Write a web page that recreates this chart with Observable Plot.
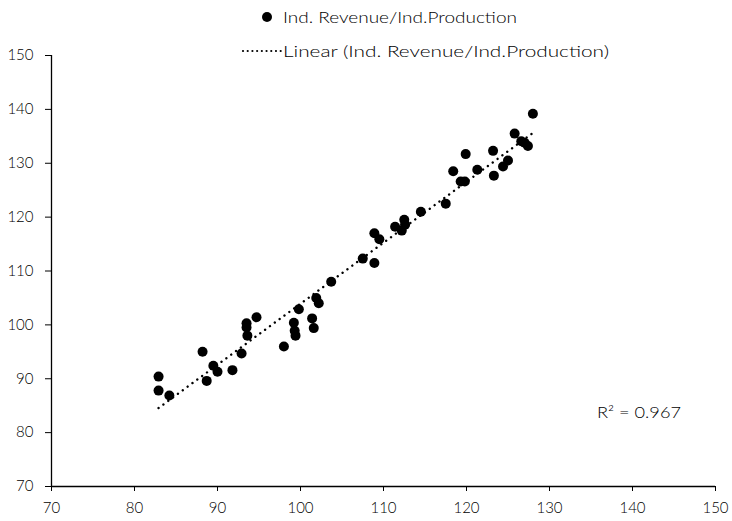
<!DOCTYPE html>
<html>
<head>
<meta charset="utf-8">
<script src="https://cdn.jsdelivr.net/npm/d3@7"></script>
<script src="https://cdn.jsdelivr.net/npm/@observablehq/plot@0.6"></script>
<style>
  html, body { margin: 0; padding: 0; background: #fff; }
  #wrap { position: relative; width: 732px; height: 521px; }
  #overlay { position: absolute; left: 0; top: 0; pointer-events: none; }
  #wrap svg text { font-weight: 300; }
</style>
</head>
<body>
<div id="wrap"></div>
<script>
// Industrial production (x) vs industrial revenue (y)
const production = [
  82.9, 82.9, 84.2, 88.2, 88.7, 89.5, 90.0, 91.8, 92.9, 93.5, 93.5, 93.6, 94.7,
  98.0, 99.2, 99.3, 99.4, 99.8, 101.4, 101.6, 101.9, 102.2, 103.7,
  107.5, 108.9, 108.9, 109.5, 111.4, 112.2, 112.5, 112.6, 114.5, 117.5,
  118.4, 119.3, 119.8, 119.9, 121.3, 123.2, 123.3, 124.4, 125.0, 125.8,
  126.6, 127.0, 127.4, 128.0
];
const revenue = [
  90.4, 87.8, 86.9, 95.0, 89.6, 92.4, 91.3, 91.6, 94.7, 100.3, 99.5, 98.0, 101.4,
  96.0, 100.4, 98.9, 98.0, 102.9, 101.2, 99.4, 105.0, 104.0, 108.0,
  112.3, 117.0, 111.5, 115.9, 118.2, 117.5, 119.5, 118.6, 121.0, 122.5,
  128.5, 126.6, 126.6, 131.7, 128.8, 132.3, 127.7, 129.4, 130.5, 135.5,
  134.1, 133.8, 133.2, 139.2
];
const xTicks = [70, 80, 90, 100, 110, 120, 130, 140, 150];
const yTicks = [70, 80, 90, 100, 110, 120, 130, 140, 150];
const seriesLabel = "Ind. Revenue/Ind.Production";
const trendLabel = "Linear (Ind. Revenue/Ind.Production)";
const r2Label = "R\u00B2 = 0.967";

const data = production.map((p, i) => ({ x: p, y: revenue[i] }));

const font = "Lato, 'Open Sans', sans-serif";

const chart = Plot.plot({
  width: 732,
  height: 521,
  marginLeft: 51,
  marginRight: 17,
  marginTop: 55,
  marginBottom: 35,
  style: { fontFamily: font, fontSize: "15px", color: "#000", background: "#fff" },
  x: { domain: [70, 150], ticks: xTicks, label: null, tickSize: 5, tickPadding: 11 },
  y: { domain: [70, 150], ticks: yTicks, label: null, tickSize: 6, tickPadding: 12 },
  marks: [
    Plot.ruleX([70], { stroke: "#000", strokeWidth: 1.3 }),
    Plot.ruleY([70], { stroke: "#000", strokeWidth: 1.3 }),
    Plot.linearRegressionY(data, {
      x: "x", y: "y", ci: 0, stroke: "#000", strokeWidth: 2.4,
      strokeDasharray: "0.01 6", strokeLinecap: "round"
    }),
    Plot.dot(data, { x: "x", y: "y", r: 5, fill: "#000", stroke: "none" })
  ]
});
document.getElementById("wrap").appendChild(chart);

// Legend and R² annotation overlay
const ns = "http://www.w3.org/2000/svg";
const ov = document.createElementNS(ns, "svg");
ov.setAttribute("id", "overlay");
ov.setAttribute("width", 732);
ov.setAttribute("height", 521);
function addText(str, x, y, len, anchor) {
  const t = document.createElementNS(ns, "text");
  t.setAttribute("x", x);
  t.setAttribute("y", y);
  t.setAttribute("font-family", font);
  t.setAttribute("font-size", "15");
  t.setAttribute("font-weight", "300");
  t.setAttribute("fill", "#000");
  t.setAttribute("dominant-baseline", "central");
  if (anchor) t.setAttribute("text-anchor", anchor);
  if (len) { t.setAttribute("textLength", len); t.setAttribute("lengthAdjust", "spacingAndGlyphs"); }
  t.textContent = str;
  ov.appendChild(t);
}
const c = document.createElementNS(ns, "circle");
c.setAttribute("cx", 267); c.setAttribute("cy", 17); c.setAttribute("r", 5); c.setAttribute("fill", "#000");
ov.appendChild(c);
addText(seriesLabel, 283, 17, 234);
const l = document.createElementNS(ns, "line");
l.setAttribute("x1", 243); l.setAttribute("x2", 281); l.setAttribute("y1", 51); l.setAttribute("y2", 51);
l.setAttribute("stroke", "#000"); l.setAttribute("stroke-width", 2.2);
l.setAttribute("stroke-linecap", "round"); l.setAttribute("stroke-dasharray", "0.01 4.7");
ov.appendChild(l);
addText(trendLabel, 283, 51, 326);
addText(r2Label, 597, 412, 84);
document.getElementById("wrap").appendChild(ov);
</script>
</body>
</html>
